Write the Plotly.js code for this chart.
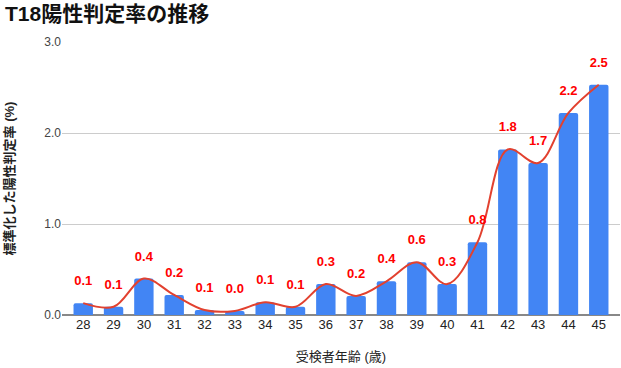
<!DOCTYPE html>
<html>
<head>
<meta charset="utf-8">
<script src="https://cdn.plot.ly/plotly-3.0.1.min.js"></script>
<style>html,body{margin:0;padding:0;background:#fff;}#chart{width:621px;height:368px;}</style>
</head>
<body>
<div id="chart"></div>
<script>
const ages = ['28','29','30','31','32','33','34','35','36','37','38','39','40','41','42','43','44','45'];
const rates = [0.13, 0.09, 0.40, 0.22, 0.055, 0.045, 0.14, 0.09, 0.34, 0.21, 0.37, 0.58, 0.34, 0.80, 1.82, 1.67, 2.22, 2.53];
const labels = rates.map(v => v.toFixed(1));
const yTicks = [0, 1, 2, 3];
const yTickText = ['0.0', '1.0', '2.0', '3.0'];

const fontFam = 'Arial, "Liberation Sans", "Noto Sans CJK JP", sans-serif';

const traces = [
  {
    type: 'bar', x: ages, y: rates,
    marker: {color: '#4285F4', cornerradius: 2},
    width: 0.64, hoverinfo: 'none'
  },
  {
    type: 'scatter', mode: 'lines', x: ages, y: rates,
    line: {color: '#E2412F', width: 2, shape: 'spline', smoothing: 1},
    hoverinfo: 'none'
  },
  {
    type: 'scatter', mode: 'markers+text', x: ages, y: rates,
    text: labels, textposition: 'top center',
    marker: {size: 22, opacity: 0},
    textfont: {color: '#FF0000', size: 13, family: fontFam, weight: 'bold'},
    hoverinfo: 'none', cliponaxis: false
  }
];

const layout = {
  width: 621, height: 368,
  margin: {l: 62, r: 1, t: 42, b: 53},
  paper_bgcolor: '#fff', plot_bgcolor: '#fff',
  showlegend: false,
  bargap: 0.36,
  font: {family: fontFam, color: '#222', size: 12},
  title: {
    text: '<b>T18陽性判定率の推移</b>',
    x: 0.008, xanchor: 'left', y: 0.962, yanchor: 'middle',
    font: {size: 21, color: '#111', family: fontFam}
  },
  xaxis: {
    type: 'category', range: [-0.7, 17.7],
    showgrid: false, zeroline: false, showline: false,
    ticks: '', tickfont: {size: 13, color: '#222'},
    title: {text: '受検者年齢 (歳)', font: {size: 13, color: '#222'}, standoff: 20},
    fixedrange: true
  },
  yaxis: {
    range: [0, 3], tickvals: yTicks, ticktext: yTickText,
    showgrid: true, gridcolor: '#CCCCCC', gridwidth: 1,
    zeroline: true, zerolinecolor: '#888888', zerolinewidth: 2,
    showline: false, ticks: '',
    tickfont: {size: 12, color: '#444'},
    title: {text: '<b>標準化した陽性判定率 (%)</b>', font: {size: 13, color: '#222'}, standoff: 26},
    fixedrange: true
  }
};

Plotly.newPlot('chart', traces, layout, {displayModeBar: false, staticPlot: true});
</script>
</body>
</html>
